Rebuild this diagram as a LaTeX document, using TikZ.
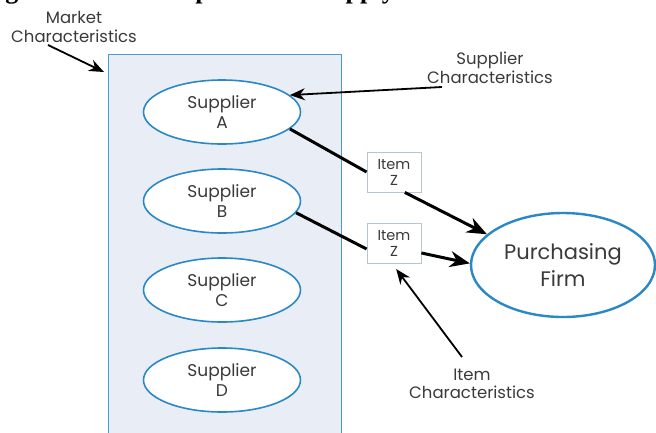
\documentclass[tikz,border=0pt]{standalone}
\usepackage{fontspec}
\setmainfont{Poppins}
\newfontfamily\titlefont{Liberation Serif}
\usetikzlibrary{arrows.meta,shapes.geometric}
\definecolor{boxfill}{HTML}{E9EEF6}
\definecolor{boxline}{HTML}{4A9AD4}
\definecolor{ellline}{HTML}{2A88C6}
\definecolor{txt}{HTML}{3A3A3A}
\definecolor{itemline}{HTML}{B8C4D8}
\tikzset{
  supp/.style={ellipse,draw=ellline,line width=1.6pt,fill=white,minimum width=157pt,minimum height=64pt,inner sep=0pt,align=center,text=txt,font=\fontsize{17}{20}\selectfont},
  itembox/.style={rectangle,draw=itemline,line width=0.8pt,fill=white,minimum width=54pt,minimum height=40pt,inner sep=0pt,align=center,text=txt,font=\fontsize{14.5}{16}\selectfont},
  firm/.style={ellipse,draw=ellline,line width=2.4pt,fill=white,minimum width=184pt,minimum height=104pt,inner sep=0pt,align=center,text=txt,font=\fontsize{21}{27}\selectfont},
  lbl/.style={align=center,text=txt,font=\fontsize{16.5}{18.5}\selectfont,inner sep=0pt},
  flow/.style={line width=3pt,-{Stealth[length=20pt,width=16pt]}},
  flowline/.style={line width=3pt},
  pointer/.style={line width=1.8pt,-{Stealth[length=15pt,width=12pt]}}
}
\begin{document}
\begin{tikzpicture}[x=1pt,y=-1pt]
\useasboundingbox (0,0) rectangle (656,432);
\clip (0,0) rectangle (656,432);
% cut-off title
\node[anchor=base west,inner sep=0pt,font=\titlefont\bfseries\fontsize{26}{30}\selectfont] (title) at (-18,-2) {Figure 2: The Components of Supply};
% market box
\node[draw=boxline,fill=boxfill,line width=1pt,minimum width=233pt,minimum height=400pt,inner sep=0pt,anchor=north west] (market) at (108,54) {};
% suppliers
\node[supp] (A) at (222,112) {Supplier\\A};
\node[supp] (B) at (222,201) {Supplier\\B};
\node[supp] (C) at (222,290) {Supplier\\C};
\node[supp] (D) at (222,380) {Supplier\\D};
% items
\node[itembox] (Z1) at (394,172) {Item\\Z};
\node[itembox] (Z2) at (394,243) {Item\\Z};
% firm
\node[firm] (F) at (563,265) {Purchasing\\Firm};
% labels
\node[lbl] (mc) at (74,27) {Market\\Characteristics};
\node[lbl] (sc) at (490,68) {Supplier\\Characteristics};
\node[lbl] (ic) at (472,384) {Item\\Characteristics};
\coordinate (mcend) at (48,45);
\coordinate (mctip) at (104,72);
\coordinate (scend) at (442,87);
\coordinate (icend) at (462,357);
% connectors
\draw[flowline] (A.-14) -- (Z1.west);
\draw[flow] (Z1.-62) -- (F.158);
\draw[flowline] (B.-9) -- ([yshift=-6pt]Z2.west);
\draw[flow] (Z2.-20) -- (F.179);
\draw[pointer] (mcend) -- (mctip);
\draw[pointer] (scend) -- (A.14);
\draw[pointer,shorten >=7pt] (icend) -- ([xshift=-2pt]Z2.south);
\end{tikzpicture}
\end{document}
